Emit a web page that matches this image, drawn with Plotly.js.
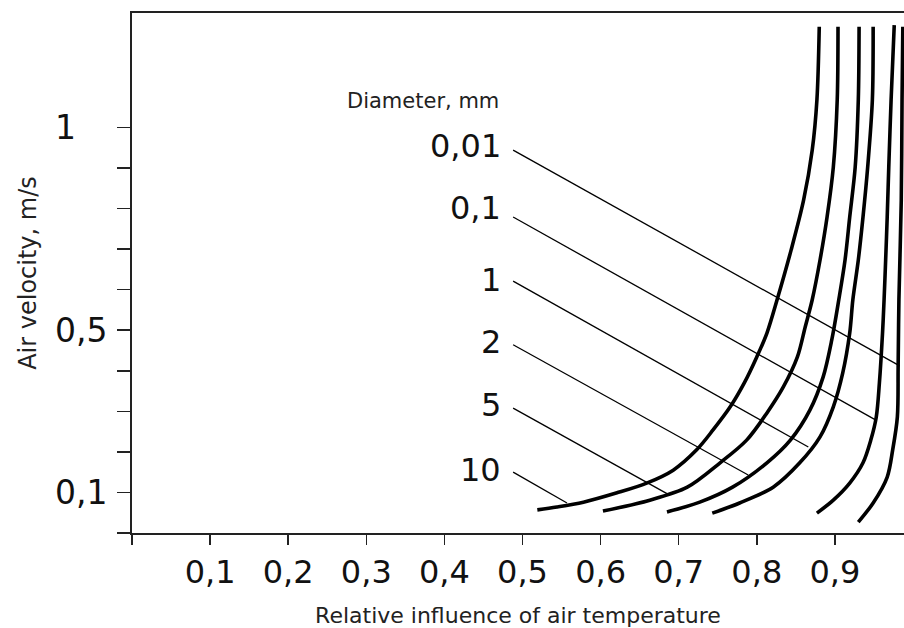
<!DOCTYPE html>
<html>
<head>
<meta charset="utf-8">
<script src="https://cdn.plot.ly/plotly-3.0.1.min.js"></script>
<style>html,body{margin:0;padding:0;background:#fff;}#chart{width:904px;height:628px;}</style>
</head>
<body>
<div id="chart"></div>
<script>
// ---- data ----
const diameters = ['10', '5', '2', '1', '0,1', '0,01'];

const x10  = [0.519,0.544,0.578,0.621,0.659,0.693,0.723,0.744,0.766,0.784,0.800,0.813,0.826,0.844,0.860,0.871,0.877,0.880];
const y10  = [0.057,0.064,0.076,0.099,0.123,0.155,0.205,0.254,0.311,0.370,0.434,0.493,0.575,0.698,0.821,0.944,1.068,1.248];

const x5   = [0.603,0.663,0.711,0.753,0.787,0.813,0.834,0.852,0.862,0.871,0.881,0.890,0.898,0.903,0.904];
const y5   = [0.054,0.081,0.113,0.173,0.229,0.296,0.360,0.434,0.508,0.575,0.673,0.779,0.902,1.068,1.248];

const x2   = [0.685,0.727,0.769,0.813,0.843,0.868,0.885,0.896,0.905,0.913,0.919,0.926,0.930,0.931];
const y2   = [0.052,0.076,0.113,0.173,0.229,0.303,0.385,0.476,0.575,0.673,0.779,0.902,1.068,1.248];

const x1   = [0.743,0.778,0.821,0.855,0.881,0.898,0.910,0.919,0.923,0.930,0.936,0.942,0.948,0.949];
const y1   = [0.049,0.074,0.113,0.173,0.237,0.311,0.394,0.493,0.575,0.673,0.779,0.902,1.068,1.248];

const x01  = [0.877,0.898,0.919,0.936,0.946,0.953,0.957,0.961,0.963,0.965,0.967,0.969,0.972,0.976];
const y01  = [0.049,0.081,0.123,0.173,0.229,0.286,0.370,0.493,0.575,0.673,0.779,0.902,1.068,1.252];

const x001 = [0.930,0.949,0.967,0.974,0.980,0.981,0.982,0.985,0.986,0.987];
const y001 = [0.027,0.074,0.138,0.205,0.286,0.409,0.575,0.821,1.068,1.248];

// leader lines from each label to its curve (order: 10, 5, 2, 1, 0.1, 0.01)
const leaderStartX = [0.488,0.488,0.488,0.488,0.488,0.488];
const leaderStartY = [0.150,0.308,0.464,0.621,0.779,0.944];
const leaderEndX   = [0.557,0.685,0.789,0.866,0.952,0.983];
const leaderEndY   = [0.074,0.097,0.143,0.212,0.279,0.412];

// label anchor positions (right edge of text)
const labelX = [0.475,0.475,0.475,0.475,0.475,0.475];
const labelY = [0.155,0.316,0.471,0.624,0.801,0.954];

const xTickVals = [0,0.1,0.2,0.3,0.4,0.5,0.6,0.7,0.8,0.9];
const xTickText = ['','0,1','0,2','0,3','0,4','0,5','0,6','0,7','0,8','0,9'];
const yTickVals = [0,0.1,0.2,0.3,0.4,0.5,0.6,0.7,0.8,0.9,1.0];
const yTickText = ['','0,1','','','','0,5','','','','','1'];

const xTitle = 'Relative influence of air temperature';
const yTitle = 'Air velocity, m/s';
const legendTitle = 'Diameter, mm';

// ---- build ----
const FONT = 'DejaVu Sans, Liberation Sans, Arial, sans-serif';
const curvesX = [x10, x5, x2, x1, x01, x001];
const curvesY = [y10, y5, y2, y1, y01, y001];

const traces = [];
curvesX.forEach((cx, i) => {
  traces.push({
    type: 'scatter', mode: 'lines', x: cx, y: curvesY[i],
    name: diameters[i] + ' mm',
    line: {color: '#000', width: 3.6, shape: 'spline', smoothing: 0.9},
    hoverinfo: 'skip', showlegend: false
  });
  traces.push({
    type: 'scatter', mode: 'lines',
    x: [leaderStartX[i], leaderEndX[i]], y: [leaderStartY[i], leaderEndY[i]],
    line: {color: '#000', width: 1.3},
    hoverinfo: 'skip', showlegend: false
  });
});

const annotations = [];
diameters.forEach((d, i) => {
  annotations.push({
    xref: 'x', yref: 'y', x: labelX[i], y: labelY[i], text: d,
    xanchor: 'right', yanchor: 'middle', showarrow: false,
    font: {family: FONT, size: 32, color: '#111'}
  });
});
annotations.push({
  xref: 'x', yref: 'y', x: 0.372, y: 1.064, text: legendTitle,
  xanchor: 'center', yanchor: 'middle', showarrow: false,
  font: {family: FONT, size: 21, color: '#222'}
});
yTickVals.forEach((v, i) => {
  if (yTickText[i]) {
    annotations.push({
      xref: 'paper', yref: 'y', x: -79/772, y: v, text: yTickText[i],
      xanchor: 'left', yanchor: 'middle', showarrow: false,
      font: {family: FONT, size: 33, color: '#111'}
    });
  }
});

const layout = {
  width: 904, height: 628,
  margin: {l: 132, r: 0, t: 13, b: 95, pad: 0},
  paper_bgcolor: '#fff', plot_bgcolor: '#fff',
  showlegend: false,
  xaxis: {
    range: [0, 0.9885], tickmode: 'array', tickvals: xTickVals, ticktext: xTickText,
    ticks: 'outside', ticklen: 10, tickwidth: 1.5, tickcolor: '#222',
    showline: true, linecolor: '#222', linewidth: 2, mirror: true,
    showgrid: false, zeroline: false, fixedrange: true,
    tickfont: {family: FONT, size: 32, color: '#111'},
    title: {text: xTitle, font: {family: FONT, size: 22, color: '#222'}, standoff: 19}
  },
  yaxis: {
    range: [0, 1.282], tickmode: 'array', tickvals: yTickVals, ticktext: yTickText,
    showticklabels: false,
    ticks: 'outside', ticklen: 13, tickwidth: 1.5, tickcolor: '#222',
    showline: true, linecolor: '#222', linewidth: 2,
    showgrid: false, zeroline: false, fixedrange: true,
    title: {text: yTitle, font: {family: FONT, size: 24, color: '#222'}, standoff: 74}
  },
  annotations: annotations
};

Plotly.newPlot('chart', traces, layout, {staticPlot: true, displayModeBar: false});
</script>
</body>
</html>
